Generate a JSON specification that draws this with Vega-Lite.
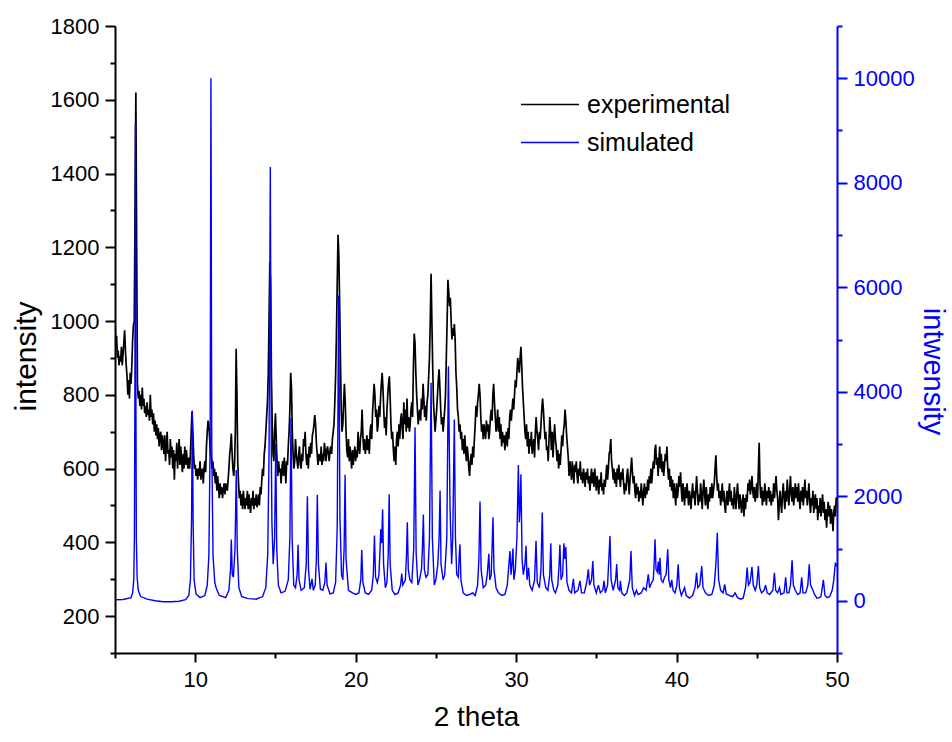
{
"$schema": "https://vega.github.io/schema/vega-lite/v6.json",
"width": 722,
"height": 627,
"autosize": {"type": "none"},
"padding": {"left": 115, "top": 26, "right": 115, "bottom": 89},
"background": "white",
"config": {"view": {"stroke": null}, "font": "Liberation Sans"},
"datasets": {
"exp": [
{"theta":5.00,"counts":1000},{"theta":5.05,"counts":930},{"theta":5.10,"counts":960},{"theta":5.15,"counts":900},{"theta":5.20,"counts":920},{"theta":5.25,"counts":880},{"theta":5.30,"counts":905},{"theta":5.35,"counts":890},{"theta":5.40,"counts":930},{"theta":5.45,"counts":880},{"theta":5.50,"counts":910},{"theta":5.55,"counts":940},{"theta":5.60,"counts":975},{"theta":5.65,"counts":920},{"theta":5.70,"counts":880},{"theta":5.75,"counts":850},{"theta":5.80,"counts":800},{"theta":5.85,"counts":840},{"theta":5.90,"counts":790},{"theta":5.95,"counts":860},{"theta":6.00,"counts":830},{"theta":6.05,"counts":880},{"theta":6.10,"counts":950},{"theta":6.15,"counts":990},{"theta":6.20,"counts":1000},{"theta":6.25,"counts":1300},{"theta":6.30,"counts":1620},{"theta":6.35,"counts":1200},{"theta":6.40,"counts":830},{"theta":6.45,"counts":790},{"theta":6.50,"counts":810},{"theta":6.55,"counts":770},{"theta":6.60,"counts":800},{"theta":6.65,"counts":760},{"theta":6.70,"counts":820},{"theta":6.75,"counts":770},{"theta":6.80,"counts":790},{"theta":6.85,"counts":750},{"theta":6.90,"counts":770},{"theta":6.95,"counts":740},{"theta":7.00,"counts":780},{"theta":7.05,"counts":745},{"theta":7.10,"counts":760},{"theta":7.15,"counts":730},{"theta":7.20,"counts":800},{"theta":7.25,"counts":740},{"theta":7.30,"counts":760},{"theta":7.35,"counts":720},{"theta":7.40,"counts":750},{"theta":7.45,"counts":700},{"theta":7.50,"counts":730},{"theta":7.55,"counts":690},{"theta":7.60,"counts":720},{"theta":7.65,"counts":680},{"theta":7.70,"counts":710},{"theta":7.75,"counts":660},{"theta":7.80,"counts":690},{"theta":7.85,"counts":700},{"theta":7.90,"counts":650},{"theta":7.95,"counts":690},{"theta":8.00,"counts":670},{"theta":8.05,"counts":640},{"theta":8.10,"counts":690},{"theta":8.15,"counts":620},{"theta":8.20,"counts":660},{"theta":8.25,"counts":700},{"theta":8.30,"counts":640},{"theta":8.35,"counts":650},{"theta":8.40,"counts":610},{"theta":8.45,"counts":680},{"theta":8.50,"counts":630},{"theta":8.55,"counts":660},{"theta":8.60,"counts":600},{"theta":8.65,"counts":650},{"theta":8.70,"counts":570},{"theta":8.75,"counts":640},{"theta":8.80,"counts":620},{"theta":8.85,"counts":670},{"theta":8.90,"counts":600},{"theta":8.95,"counts":640},{"theta":9.00,"counts":680},{"theta":9.05,"counts":610},{"theta":9.10,"counts":660},{"theta":9.15,"counts":620},{"theta":9.20,"counts":590},{"theta":9.25,"counts":640},{"theta":9.30,"counts":600},{"theta":9.35,"counts":660},{"theta":9.40,"counts":610},{"theta":9.45,"counts":650},{"theta":9.50,"counts":620},{"theta":9.55,"counts":600},{"theta":9.60,"counts":630},{"theta":9.65,"counts":600},{"theta":9.70,"counts":640},{"theta":9.75,"counts":700},{"theta":9.80,"counts":755},{"theta":9.85,"counts":700},{"theta":9.90,"counts":640},{"theta":9.95,"counts":600},
{"theta":10.00,"counts":610},{"theta":10.05,"counts":580},{"theta":10.10,"counts":600},{"theta":10.15,"counts":570},{"theta":10.20,"counts":600},{"theta":10.25,"counts":580},{"theta":10.30,"counts":620},{"theta":10.35,"counts":570},{"theta":10.40,"counts":590},{"theta":10.45,"counts":600},{"theta":10.50,"counts":560},{"theta":10.55,"counts":600},{"theta":10.60,"counts":620},{"theta":10.65,"counts":590},{"theta":10.70,"counts":660},{"theta":10.75,"counts":700},{"theta":10.80,"counts":730},{"theta":10.85,"counts":720},{"theta":10.90,"counts":680},{"theta":10.95,"counts":640},{"theta":11.00,"counts":630},{"theta":11.05,"counts":600},{"theta":11.10,"counts":620},{"theta":11.15,"counts":580},{"theta":11.20,"counts":600},{"theta":11.25,"counts":560},{"theta":11.30,"counts":590},{"theta":11.35,"counts":540},{"theta":11.40,"counts":580},{"theta":11.45,"counts":550},{"theta":11.50,"counts":520},{"theta":11.55,"counts":560},{"theta":11.60,"counts":530},{"theta":11.65,"counts":550},{"theta":11.70,"counts":520},{"theta":11.75,"counts":540},{"theta":11.80,"counts":560},{"theta":11.85,"counts":530},{"theta":11.90,"counts":560},{"theta":11.95,"counts":550},{"theta":12.00,"counts":540},{"theta":12.05,"counts":570},{"theta":12.10,"counts":600},{"theta":12.15,"counts":640},{"theta":12.20,"counts":660},{"theta":12.25,"counts":695},{"theta":12.30,"counts":640},{"theta":12.35,"counts":600},{"theta":12.40,"counts":580},{"theta":12.45,"counts":610},{"theta":12.50,"counts":700},{"theta":12.55,"counts":925},{"theta":12.60,"counts":800},{"theta":12.65,"counts":620},{"theta":12.70,"counts":560},{"theta":12.75,"counts":520},{"theta":12.80,"counts":540},{"theta":12.85,"counts":500},{"theta":12.90,"counts":530},{"theta":12.95,"counts":490},{"theta":13.00,"counts":540},{"theta":13.05,"counts":510},{"theta":13.10,"counts":490},{"theta":13.15,"counts":520},{"theta":13.20,"counts":500},{"theta":13.25,"counts":540},{"theta":13.30,"counts":490},{"theta":13.35,"counts":530},{"theta":13.40,"counts":500},{"theta":13.45,"counts":480},{"theta":13.50,"counts":520},{"theta":13.55,"counts":500},{"theta":13.60,"counts":540},{"theta":13.65,"counts":490},{"theta":13.70,"counts":520},{"theta":13.75,"counts":500},{"theta":13.80,"counts":530},{"theta":13.85,"counts":495},{"theta":13.90,"counts":510},{"theta":13.95,"counts":530},{"theta":14.00,"counts":500},{"theta":14.05,"counts":550},{"theta":14.10,"counts":530},{"theta":14.15,"counts":570},{"theta":14.20,"counts":600},{"theta":14.25,"counts":580},{"theta":14.30,"counts":640},{"theta":14.35,"counts":660},{"theta":14.40,"counts":700},{"theta":14.45,"counts":740},{"theta":14.50,"counts":780},{"theta":14.55,"counts":850},{"theta":14.60,"counts":1000},{"theta":14.65,"counts":1160},{"theta":14.70,"counts":1100},{"theta":14.75,"counts":850},{"theta":14.80,"counts":720},{"theta":14.85,"counts":640},{"theta":14.90,"counts":620},{"theta":14.95,"counts":700},
{"theta":15.00,"counts":750},{"theta":15.05,"counts":680},{"theta":15.10,"counts":620},{"theta":15.15,"counts":580},{"theta":15.20,"counts":620},{"theta":15.25,"counts":590},{"theta":15.30,"counts":600},{"theta":15.35,"counts":560},{"theta":15.40,"counts":600},{"theta":15.45,"counts":620},{"theta":15.50,"counts":580},{"theta":15.55,"counts":630},{"theta":15.60,"counts":600},{"theta":15.65,"counts":560},{"theta":15.70,"counts":620},{"theta":15.75,"counts":610},{"theta":15.80,"counts":660},{"theta":15.85,"counts":700},{"theta":15.90,"counts":760},{"theta":15.95,"counts":860},{"theta":16.00,"counts":820},{"theta":16.05,"counts":700},{"theta":16.10,"counts":640},{"theta":16.15,"counts":600},{"theta":16.20,"counts":620},{"theta":16.25,"counts":680},{"theta":16.30,"counts":640},{"theta":16.35,"counts":620},{"theta":16.40,"counts":600},{"theta":16.45,"counts":640},{"theta":16.50,"counts":660},{"theta":16.55,"counts":610},{"theta":16.60,"counts":600},{"theta":16.65,"counts":640},{"theta":16.70,"counts":620},{"theta":16.75,"counts":680},{"theta":16.80,"counts":660},{"theta":16.85,"counts":700},{"theta":16.90,"counts":640},{"theta":16.95,"counts":610},{"theta":17.00,"counts":640},{"theta":17.05,"counts":600},{"theta":17.10,"counts":660},{"theta":17.15,"counts":630},{"theta":17.20,"counts":670},{"theta":17.25,"counts":640},{"theta":17.30,"counts":690},{"theta":17.35,"counts":700},{"theta":17.40,"counts":720},{"theta":17.45,"counts":745},{"theta":17.50,"counts":720},{"theta":17.55,"counts":670},{"theta":17.60,"counts":640},{"theta":17.65,"counts":610},{"theta":17.70,"counts":640},{"theta":17.75,"counts":630},{"theta":17.80,"counts":620},{"theta":17.85,"counts":660},{"theta":17.90,"counts":610},{"theta":17.95,"counts":640},{"theta":18.00,"counts":620},{"theta":18.05,"counts":670},{"theta":18.10,"counts":650},{"theta":18.15,"counts":620},{"theta":18.20,"counts":650},{"theta":18.25,"counts":660},{"theta":18.30,"counts":640},{"theta":18.35,"counts":620},{"theta":18.40,"counts":650},{"theta":18.45,"counts":660},{"theta":18.50,"counts":640},{"theta":18.55,"counts":680},{"theta":18.60,"counts":700},{"theta":18.65,"counts":720},{"theta":18.70,"counts":780},{"theta":18.75,"counts":850},{"theta":18.80,"counts":960},{"theta":18.85,"counts":1100},{"theta":18.90,"counts":1234},{"theta":18.95,"counts":1180},{"theta":19.00,"counts":1050},{"theta":19.05,"counts":900},{"theta":19.10,"counts":760},{"theta":19.15,"counts":700},{"theta":19.20,"counts":720},{"theta":19.25,"counts":780},{"theta":19.30,"counts":830},{"theta":19.35,"counts":780},{"theta":19.40,"counts":700},{"theta":19.45,"counts":650},{"theta":19.50,"counts":630},{"theta":19.55,"counts":680},{"theta":19.60,"counts":620},{"theta":19.65,"counts":660},{"theta":19.70,"counts":630},{"theta":19.75,"counts":600},{"theta":19.80,"counts":650},{"theta":19.85,"counts":610},{"theta":19.90,"counts":640},{"theta":19.95,"counts":660},
{"theta":20.00,"counts":620},{"theta":20.05,"counts":650},{"theta":20.10,"counts":630},{"theta":20.15,"counts":700},{"theta":20.20,"counts":660},{"theta":20.25,"counts":640},{"theta":20.30,"counts":680},{"theta":20.35,"counts":700},{"theta":20.40,"counts":760},{"theta":20.45,"counts":690},{"theta":20.50,"counts":650},{"theta":20.55,"counts":680},{"theta":20.60,"counts":640},{"theta":20.65,"counts":660},{"theta":20.70,"counts":690},{"theta":20.75,"counts":650},{"theta":20.80,"counts":680},{"theta":20.85,"counts":640},{"theta":20.90,"counts":700},{"theta":20.95,"counts":720},{"theta":21.00,"counts":680},{"theta":21.05,"counts":750},{"theta":21.10,"counts":790},{"theta":21.15,"counts":830},{"theta":21.20,"counts":800},{"theta":21.25,"counts":740},{"theta":21.30,"counts":760},{"theta":21.35,"counts":700},{"theta":21.40,"counts":720},{"theta":21.45,"counts":770},{"theta":21.50,"counts":740},{"theta":21.55,"counts":790},{"theta":21.60,"counts":830},{"theta":21.65,"counts":860},{"theta":21.70,"counts":820},{"theta":21.75,"counts":760},{"theta":21.80,"counts":710},{"theta":21.85,"counts":740},{"theta":21.90,"counts":690},{"theta":21.95,"counts":760},{"theta":22.00,"counts":800},{"theta":22.05,"counts":830},{"theta":22.10,"counts":850},{"theta":22.15,"counts":790},{"theta":22.20,"counts":720},{"theta":22.25,"counts":680},{"theta":22.30,"counts":700},{"theta":22.35,"counts":650},{"theta":22.40,"counts":620},{"theta":22.45,"counts":660},{"theta":22.50,"counts":610},{"theta":22.55,"counts":680},{"theta":22.60,"counts":700},{"theta":22.65,"counts":660},{"theta":22.70,"counts":720},{"theta":22.75,"counts":680},{"theta":22.80,"counts":730},{"theta":22.85,"counts":750},{"theta":22.90,"counts":710},{"theta":22.95,"counts":680},{"theta":23.00,"counts":780},{"theta":23.05,"counts":720},{"theta":23.10,"counts":760},{"theta":23.15,"counts":700},{"theta":23.20,"counts":790},{"theta":23.25,"counts":710},{"theta":23.30,"counts":740},{"theta":23.35,"counts":700},{"theta":23.40,"counts":720},{"theta":23.45,"counts":760},{"theta":23.50,"counts":780},{"theta":23.55,"counts":740},{"theta":23.60,"counts":880},{"theta":23.65,"counts":966},{"theta":23.70,"counts":940},{"theta":23.75,"counts":860},{"theta":23.80,"counts":800},{"theta":23.85,"counts":760},{"theta":23.90,"counts":720},{"theta":23.95,"counts":750},{"theta":24.00,"counts":760},{"theta":24.05,"counts":730},{"theta":24.10,"counts":790},{"theta":24.15,"counts":760},{"theta":24.20,"counts":830},{"theta":24.25,"counts":790},{"theta":24.30,"counts":740},{"theta":24.35,"counts":770},{"theta":24.40,"counts":730},{"theta":24.45,"counts":780},{"theta":24.50,"counts":800},{"theta":24.55,"counts":850},{"theta":24.60,"counts":900},{"theta":24.65,"counts":1000},{"theta":24.70,"counts":1128},{"theta":24.75,"counts":1000},{"theta":24.80,"counts":880},{"theta":24.85,"counts":780},{"theta":24.90,"counts":740},{"theta":24.95,"counts":700},
{"theta":25.00,"counts":730},{"theta":25.05,"counts":760},{"theta":25.10,"counts":800},{"theta":25.15,"counts":840},{"theta":25.20,"counts":869},{"theta":25.25,"counts":820},{"theta":25.30,"counts":760},{"theta":25.35,"counts":720},{"theta":25.40,"counts":740},{"theta":25.45,"counts":700},{"theta":25.50,"counts":730},{"theta":25.55,"counts":760},{"theta":25.60,"counts":800},{"theta":25.65,"counts":900},{"theta":25.70,"counts":1000},{"theta":25.75,"counts":1112},{"theta":25.80,"counts":1080},{"theta":25.85,"counts":1040},{"theta":25.90,"counts":1063},{"theta":25.95,"counts":1000},{"theta":26.00,"counts":950},{"theta":26.05,"counts":980},{"theta":26.10,"counts":960},{"theta":26.15,"counts":992},{"theta":26.20,"counts":950},{"theta":26.25,"counts":860},{"theta":26.30,"counts":820},{"theta":26.35,"counts":760},{"theta":26.40,"counts":740},{"theta":26.45,"counts":700},{"theta":26.50,"counts":720},{"theta":26.55,"counts":680},{"theta":26.60,"counts":700},{"theta":26.65,"counts":650},{"theta":26.70,"counts":680},{"theta":26.75,"counts":640},{"theta":26.80,"counts":690},{"theta":26.85,"counts":650},{"theta":26.90,"counts":620},{"theta":26.95,"counts":660},{"theta":27.00,"counts":640},{"theta":27.05,"counts":600},{"theta":27.10,"counts":580},{"theta":27.15,"counts":620},{"theta":27.20,"counts":640},{"theta":27.25,"counts":610},{"theta":27.30,"counts":660},{"theta":27.35,"counts":630},{"theta":27.40,"counts":680},{"theta":27.45,"counts":720},{"theta":27.50,"counts":770},{"theta":27.55,"counts":740},{"theta":27.60,"counts":780},{"theta":27.65,"counts":800},{"theta":27.70,"counts":830},{"theta":27.75,"counts":800},{"theta":27.80,"counts":740},{"theta":27.85,"counts":700},{"theta":27.90,"counts":720},{"theta":27.95,"counts":680},{"theta":28.00,"counts":720},{"theta":28.05,"counts":700},{"theta":28.10,"counts":680},{"theta":28.15,"counts":730},{"theta":28.20,"counts":700},{"theta":28.25,"counts":720},{"theta":28.30,"counts":680},{"theta":28.35,"counts":700},{"theta":28.40,"counts":740},{"theta":28.45,"counts":760},{"theta":28.50,"counts":730},{"theta":28.55,"counts":800},{"theta":28.60,"counts":830},{"theta":28.65,"counts":780},{"theta":28.70,"counts":740},{"theta":28.75,"counts":700},{"theta":28.80,"counts":720},{"theta":28.85,"counts":760},{"theta":28.90,"counts":700},{"theta":28.95,"counts":740},{"theta":29.00,"counts":680},{"theta":29.05,"counts":720},{"theta":29.10,"counts":660},{"theta":29.15,"counts":700},{"theta":29.20,"counts":670},{"theta":29.25,"counts":690},{"theta":29.30,"counts":650},{"theta":29.35,"counts":680},{"theta":29.40,"counts":700},{"theta":29.45,"counts":660},{"theta":29.50,"counts":710},{"theta":29.55,"counts":680},{"theta":29.60,"counts":740},{"theta":29.65,"counts":760},{"theta":29.70,"counts":730},{"theta":29.75,"counts":760},{"theta":29.80,"counts":790},{"theta":29.85,"counts":760},{"theta":29.90,"counts":800},{"theta":29.95,"counts":840},
{"theta":30.00,"counts":820},{"theta":30.05,"counts":860},{"theta":30.10,"counts":900},{"theta":30.15,"counts":880},{"theta":30.20,"counts":860},{"theta":30.25,"counts":900},{"theta":30.30,"counts":930},{"theta":30.35,"counts":880},{"theta":30.40,"counts":820},{"theta":30.45,"counts":780},{"theta":30.50,"counts":740},{"theta":30.55,"counts":700},{"theta":30.60,"counts":680},{"theta":30.65,"counts":720},{"theta":30.70,"counts":660},{"theta":30.75,"counts":700},{"theta":30.80,"counts":640},{"theta":30.85,"counts":680},{"theta":30.90,"counts":660},{"theta":30.95,"counts":700},{"theta":31.00,"counts":640},{"theta":31.05,"counts":660},{"theta":31.10,"counts":680},{"theta":31.15,"counts":630},{"theta":31.20,"counts":700},{"theta":31.25,"counts":740},{"theta":31.30,"counts":700},{"theta":31.35,"counts":680},{"theta":31.40,"counts":650},{"theta":31.45,"counts":700},{"theta":31.50,"counts":680},{"theta":31.55,"counts":720},{"theta":31.60,"counts":760},{"theta":31.65,"counts":790},{"theta":31.70,"counts":760},{"theta":31.75,"counts":720},{"theta":31.80,"counts":680},{"theta":31.85,"counts":700},{"theta":31.90,"counts":650},{"theta":31.95,"counts":660},{"theta":32.00,"counts":620},{"theta":32.05,"counts":680},{"theta":32.10,"counts":740},{"theta":32.15,"counts":700},{"theta":32.20,"counts":650},{"theta":32.25,"counts":700},{"theta":32.30,"counts":630},{"theta":32.35,"counts":680},{"theta":32.40,"counts":720},{"theta":32.45,"counts":680},{"theta":32.50,"counts":660},{"theta":32.55,"counts":620},{"theta":32.60,"counts":650},{"theta":32.65,"counts":600},{"theta":32.70,"counts":640},{"theta":32.75,"counts":610},{"theta":32.80,"counts":650},{"theta":32.85,"counts":690},{"theta":32.90,"counts":660},{"theta":32.95,"counts":700},{"theta":33.00,"counts":720},{"theta":33.05,"counts":760},{"theta":33.10,"counts":730},{"theta":33.15,"counts":690},{"theta":33.20,"counts":660},{"theta":33.25,"counts":630},{"theta":33.30,"counts":580},{"theta":33.35,"counts":620},{"theta":33.40,"counts":600},{"theta":33.45,"counts":570},{"theta":33.50,"counts":620},{"theta":33.55,"counts":590},{"theta":33.60,"counts":560},{"theta":33.65,"counts":610},{"theta":33.70,"counts":590},{"theta":33.75,"counts":620},{"theta":33.80,"counts":580},{"theta":33.85,"counts":560},{"theta":33.90,"counts":600},{"theta":33.95,"counts":580},{"theta":34.00,"counts":620},{"theta":34.05,"counts":570},{"theta":34.10,"counts":590},{"theta":34.15,"counts":560},{"theta":34.20,"counts":600},{"theta":34.25,"counts":580},{"theta":34.30,"counts":550},{"theta":34.35,"counts":590},{"theta":34.40,"counts":570},{"theta":34.45,"counts":600},{"theta":34.50,"counts":560},{"theta":34.55,"counts":580},{"theta":34.60,"counts":540},{"theta":34.65,"counts":570},{"theta":34.70,"counts":600},{"theta":34.75,"counts":560},{"theta":34.80,"counts":590},{"theta":34.85,"counts":550},{"theta":34.90,"counts":600},{"theta":34.95,"counts":570},
{"theta":35.00,"counts":540},{"theta":35.05,"counts":580},{"theta":35.10,"counts":560},{"theta":35.15,"counts":530},{"theta":35.20,"counts":570},{"theta":35.25,"counts":550},{"theta":35.30,"counts":590},{"theta":35.35,"counts":540},{"theta":35.40,"counts":560},{"theta":35.45,"counts":530},{"theta":35.50,"counts":570},{"theta":35.55,"counts":550},{"theta":35.60,"counts":580},{"theta":35.65,"counts":610},{"theta":35.70,"counts":570},{"theta":35.75,"counts":600},{"theta":35.80,"counts":640},{"theta":35.85,"counts":650},{"theta":35.90,"counts":680},{"theta":35.95,"counts":620},{"theta":36.00,"counts":600},{"theta":36.05,"counts":570},{"theta":36.10,"counts":600},{"theta":36.15,"counts":560},{"theta":36.20,"counts":590},{"theta":36.25,"counts":550},{"theta":36.30,"counts":600},{"theta":36.35,"counts":570},{"theta":36.40,"counts":610},{"theta":36.45,"counts":580},{"theta":36.50,"counts":550},{"theta":36.55,"counts":590},{"theta":36.60,"counts":570},{"theta":36.65,"counts":600},{"theta":36.70,"counts":560},{"theta":36.75,"counts":530},{"theta":36.80,"counts":560},{"theta":36.85,"counts":540},{"theta":36.90,"counts":580},{"theta":36.95,"counts":600},{"theta":37.00,"counts":560},{"theta":37.05,"counts":530},{"theta":37.10,"counts":570},{"theta":37.15,"counts":600},{"theta":37.20,"counts":630},{"theta":37.25,"counts":590},{"theta":37.30,"counts":560},{"theta":37.35,"counts":580},{"theta":37.40,"counts":540},{"theta":37.45,"counts":520},{"theta":37.50,"counts":560},{"theta":37.55,"counts":530},{"theta":37.60,"counts":550},{"theta":37.65,"counts":510},{"theta":37.70,"counts":540},{"theta":37.75,"counts":520},{"theta":37.80,"counts":560},{"theta":37.85,"counts":530},{"theta":37.90,"counts":500},{"theta":37.95,"counts":540},{"theta":38.00,"counts":560},{"theta":38.05,"counts":520},{"theta":38.10,"counts":550},{"theta":38.15,"counts":530},{"theta":38.20,"counts":570},{"theta":38.25,"counts":540},{"theta":38.30,"counts":580},{"theta":38.35,"counts":560},{"theta":38.40,"counts":600},{"theta":38.45,"counts":560},{"theta":38.50,"counts":590},{"theta":38.55,"counts":620},{"theta":38.60,"counts":600},{"theta":38.65,"counts":650},{"theta":38.70,"counts":665},{"theta":38.75,"counts":610},{"theta":38.80,"counts":630},{"theta":38.85,"counts":580},{"theta":38.90,"counts":620},{"theta":38.95,"counts":660},{"theta":39.00,"counts":600},{"theta":39.05,"counts":640},{"theta":39.10,"counts":590},{"theta":39.15,"counts":620},{"theta":39.20,"counts":580},{"theta":39.25,"counts":610},{"theta":39.30,"counts":640},{"theta":39.35,"counts":620},{"theta":39.40,"counts":660},{"theta":39.45,"counts":600},{"theta":39.50,"counts":570},{"theta":39.55,"counts":600},{"theta":39.60,"counts":550},{"theta":39.65,"counts":580},{"theta":39.70,"counts":540},{"theta":39.75,"counts":570},{"theta":39.80,"counts":520},{"theta":39.85,"counts":560},{"theta":39.90,"counts":530},{"theta":39.95,"counts":500},
{"theta":40.00,"counts":560},{"theta":40.05,"counts":520},{"theta":40.10,"counts":540},{"theta":40.15,"counts":580},{"theta":40.20,"counts":550},{"theta":40.25,"counts":590},{"theta":40.30,"counts":540},{"theta":40.35,"counts":510},{"theta":40.40,"counts":560},{"theta":40.45,"counts":530},{"theta":40.50,"counts":500},{"theta":40.55,"counts":550},{"theta":40.60,"counts":520},{"theta":40.65,"counts":560},{"theta":40.70,"counts":530},{"theta":40.75,"counts":500},{"theta":40.80,"counts":540},{"theta":40.85,"counts":520},{"theta":40.90,"counts":490},{"theta":40.95,"counts":530},{"theta":41.00,"counts":560},{"theta":41.05,"counts":520},{"theta":41.10,"counts":540},{"theta":41.15,"counts":500},{"theta":41.20,"counts":540},{"theta":41.25,"counts":580},{"theta":41.30,"counts":540},{"theta":41.35,"counts":500},{"theta":41.40,"counts":530},{"theta":41.45,"counts":510},{"theta":41.50,"counts":560},{"theta":41.55,"counts":530},{"theta":41.60,"counts":490},{"theta":41.65,"counts":540},{"theta":41.70,"counts":570},{"theta":41.75,"counts":530},{"theta":41.80,"counts":500},{"theta":41.85,"counts":550},{"theta":41.90,"counts":520},{"theta":41.95,"counts":490},{"theta":42.00,"counts":530},{"theta":42.05,"counts":510},{"theta":42.10,"counts":550},{"theta":42.15,"counts":520},{"theta":42.20,"counts":560},{"theta":42.25,"counts":520},{"theta":42.30,"counts":540},{"theta":42.35,"counts":560},{"theta":42.40,"counts":600},{"theta":42.45,"counts":636},{"theta":42.50,"counts":580},{"theta":42.55,"counts":540},{"theta":42.60,"counts":560},{"theta":42.65,"counts":520},{"theta":42.70,"counts":540},{"theta":42.75,"counts":500},{"theta":42.80,"counts":530},{"theta":42.85,"counts":560},{"theta":42.90,"counts":510},{"theta":42.95,"counts":540},{"theta":43.00,"counts":500},{"theta":43.05,"counts":480},{"theta":43.10,"counts":520},{"theta":43.15,"counts":540},{"theta":43.20,"counts":500},{"theta":43.25,"counts":530},{"theta":43.30,"counts":560},{"theta":43.35,"counts":510},{"theta":43.40,"counts":540},{"theta":43.45,"counts":500},{"theta":43.50,"counts":520},{"theta":43.55,"counts":490},{"theta":43.60,"counts":550},{"theta":43.65,"counts":520},{"theta":43.70,"counts":490},{"theta":43.75,"counts":530},{"theta":43.80,"counts":560},{"theta":43.85,"counts":520},{"theta":43.90,"counts":490},{"theta":43.95,"counts":530},{"theta":44.00,"counts":510},{"theta":44.05,"counts":480},{"theta":44.10,"counts":510},{"theta":44.15,"counts":530},{"theta":44.20,"counts":470},{"theta":44.25,"counts":520},{"theta":44.30,"counts":490},{"theta":44.35,"counts":530},{"theta":44.40,"counts":510},{"theta":44.45,"counts":560},{"theta":44.50,"counts":540},{"theta":44.55,"counts":570},{"theta":44.60,"counts":530},{"theta":44.65,"counts":550},{"theta":44.70,"counts":580},{"theta":44.75,"counts":540},{"theta":44.80,"counts":520},{"theta":44.85,"counts":550},{"theta":44.90,"counts":510},{"theta":44.95,"counts":530},
{"theta":45.00,"counts":560},{"theta":45.05,"counts":520},{"theta":45.10,"counts":600},{"theta":45.15,"counts":670},{"theta":45.20,"counts":560},{"theta":45.25,"counts":520},{"theta":45.30,"counts":550},{"theta":45.35,"counts":500},{"theta":45.40,"counts":540},{"theta":45.45,"counts":510},{"theta":45.50,"counts":560},{"theta":45.55,"counts":530},{"theta":45.60,"counts":500},{"theta":45.65,"counts":540},{"theta":45.70,"counts":520},{"theta":45.75,"counts":550},{"theta":45.80,"counts":510},{"theta":45.85,"counts":540},{"theta":45.90,"counts":500},{"theta":45.95,"counts":530},{"theta":46.00,"counts":510},{"theta":46.05,"counts":560},{"theta":46.10,"counts":520},{"theta":46.15,"counts":550},{"theta":46.20,"counts":580},{"theta":46.25,"counts":540},{"theta":46.30,"counts":520},{"theta":46.35,"counts":460},{"theta":46.40,"counts":500},{"theta":46.45,"counts":540},{"theta":46.50,"counts":510},{"theta":46.55,"counts":480},{"theta":46.60,"counts":530},{"theta":46.65,"counts":560},{"theta":46.70,"counts":520},{"theta":46.75,"counts":490},{"theta":46.80,"counts":540},{"theta":46.85,"counts":510},{"theta":46.90,"counts":570},{"theta":46.95,"counts":530},{"theta":47.00,"counts":500},{"theta":47.05,"counts":540},{"theta":47.10,"counts":580},{"theta":47.15,"counts":530},{"theta":47.20,"counts":510},{"theta":47.25,"counts":550},{"theta":47.30,"counts":500},{"theta":47.35,"counts":530},{"theta":47.40,"counts":560},{"theta":47.45,"counts":520},{"theta":47.50,"counts":550},{"theta":47.55,"counts":510},{"theta":47.60,"counts":560},{"theta":47.65,"counts":520},{"theta":47.70,"counts":490},{"theta":47.75,"counts":540},{"theta":47.80,"counts":510},{"theta":47.85,"counts":550},{"theta":47.90,"counts":500},{"theta":47.95,"counts":530},{"theta":48.00,"counts":570},{"theta":48.05,"counts":520},{"theta":48.10,"counts":540},{"theta":48.15,"counts":500},{"theta":48.20,"counts":530},{"theta":48.25,"counts":560},{"theta":48.30,"counts":510},{"theta":48.35,"counts":480},{"theta":48.40,"counts":520},{"theta":48.45,"counts":500},{"theta":48.50,"counts":540},{"theta":48.55,"counts":480},{"theta":48.60,"counts":510},{"theta":48.65,"counts":530},{"theta":48.70,"counts":490},{"theta":48.75,"counts":520},{"theta":48.80,"counts":460},{"theta":48.85,"counts":500},{"theta":48.90,"counts":480},{"theta":48.95,"counts":520},{"theta":49.00,"counts":470},{"theta":49.05,"counts":500},{"theta":49.10,"counts":530},{"theta":49.15,"counts":480},{"theta":49.20,"counts":510},{"theta":49.25,"counts":460},{"theta":49.30,"counts":490},{"theta":49.35,"counts":440},{"theta":49.40,"counts":480},{"theta":49.45,"counts":510},{"theta":49.50,"counts":470},{"theta":49.55,"counts":500},{"theta":49.60,"counts":450},{"theta":49.65,"counts":490},{"theta":49.70,"counts":470},{"theta":49.75,"counts":430},{"theta":49.80,"counts":480},{"theta":49.85,"counts":500},{"theta":49.90,"counts":470},{"theta":49.95,"counts":520},{"theta":50.00,"counts":520}
],
"sim": [
{"theta":5.0,"counts":20},{"theta":5.5,"counts":25},{"theta":6.0,"counts":60},{"theta":6.1,"counts":150},{"theta":6.17,"counts":400},{"theta":6.21,"counts":1200},{"theta":6.24,"counts":4000},{"theta":6.27,"counts":9130},{"theta":6.30,"counts":4000},{"theta":6.33,"counts":1200},{"theta":6.38,"counts":450},{"theta":6.45,"counts":200},{"theta":6.6,"counts":80},{"theta":7.0,"counts":30},{"theta":7.5,"counts":0},{"theta":8.0,"counts":-20},{"theta":8.5,"counts":-20},{"theta":9.0,"counts":-10},{"theta":9.4,"counts":20},{"theta":9.6,"counts":100},{"theta":9.7,"counts":400},{"theta":9.77,"counts":1500},{"theta":9.82,"counts":3640},{"theta":9.87,"counts":1500},{"theta":9.93,"counts":400},{"theta":10.05,"counts":130},{"theta":10.3,"counts":60},{"theta":10.6,"counts":100},{"theta":10.75,"counts":300},{"theta":10.85,"counts":860},{"theta":10.93,"counts":3000},{"theta":10.98,"counts":10000},{"theta":11.03,"counts":3000},{"theta":11.11,"counts":860},{"theta":11.22,"counts":350},{"theta":11.3,"counts":250},{"theta":11.5,"counts":100},{"theta":11.9,"counts":60},{"theta":12.1,"counts":200},{"theta":12.2,"counts":600},{"theta":12.25,"counts":1170},{"theta":12.31,"counts":500},{"theta":12.38,"counts":450},{"theta":12.48,"counts":1000},{"theta":12.56,"counts":2500},{"theta":12.62,"counts":1000},{"theta":12.72,"counts":250},{"theta":12.9,"counts":80},{"theta":13.3,"counts":40},{"theta":13.8,"counts":30},{"theta":14.2,"counts":80},{"theta":14.4,"counts":250},{"theta":14.52,"counts":900},{"theta":14.6,"counts":2800},{"theta":14.68,"counts":8300},{"theta":14.74,"counts":3000},{"theta":14.78,"counts":1500},{"theta":14.86,"counts":700},{"theta":14.95,"counts":1200},{"theta":15.02,"counts":3000},{"theta":15.08,"counts":1000},{"theta":15.18,"counts":300},{"theta":15.35,"counts":150},{"theta":15.6,"counts":180},{"theta":15.8,"counts":400},{"theta":15.9,"counts":1200},{"theta":15.97,"counts":3500},{"theta":16.04,"counts":1200},{"theta":16.14,"counts":300},{"theta":16.25,"counts":250},{"theta":16.35,"counts":500},{"theta":16.41,"counts":1070},{"theta":16.47,"counts":400},{"theta":16.6,"counts":200},{"theta":16.8,"counts":250},{"theta":16.92,"counts":700},{"theta":16.99,"counts":2000},{"theta":17.06,"counts":600},{"theta":17.16,"counts":220},{"theta":17.28,"counts":420},{"theta":17.36,"counts":200},{"theta":17.48,"counts":300},{"theta":17.55,"counts":800},{"theta":17.61,"counts":2030},{"theta":17.68,"counts":700},{"theta":17.8,"counts":220},{"theta":17.95,"counts":200},{"theta":18.08,"counts":350},{"theta":18.15,"counts":730},{"theta":18.22,"counts":300},{"theta":18.4,"counts":130},{"theta":18.6,"counts":150},{"theta":18.75,"counts":350},{"theta":18.85,"counts":1400},{"theta":18.94,"counts":5840},{"theta":19.02,"counts":1600},{"theta":19.12,"counts":500},{"theta":19.2,"counts":400},{"theta":19.28,"counts":1000},{"theta":19.34,"counts":2410},{"theta":19.4,"counts":800},{"theta":19.55,"counts":200},{"theta":19.8,"counts":150},{"theta":20.0,"counts":120},{"theta":20.2,"counts":150},{"theta":20.32,"counts":400},{"theta":20.38,"counts":970},{"theta":20.45,"counts":350},{"theta":20.6,"counts":150},{"theta":20.8,"counts":120},{"theta":21.0,"counts":200},{"theta":21.1,"counts":500},{"theta":21.17,"counts":1250},{"theta":21.24,"counts":450},{"theta":21.35,"counts":350},{"theta":21.45,"counts":500},{"theta":21.52,"counts":1000},{"theta":21.56,"counts":1370},{"theta":21.62,"counts":1100},{"theta":21.68,"counts":1750},{"theta":21.74,"counts":700},{"theta":21.85,"counts":250},{"theta":21.95,"counts":350},{"theta":22.03,"counts":900},{"theta":22.09,"counts":2040},{"theta":22.15,"counts":700},{"theta":22.28,"counts":200},{"theta":22.45,"counts":120},{"theta":22.65,"counts":150},{"theta":22.8,"counts":300},{"theta":22.87,"counts":520},{"theta":22.94,"counts":300},{"theta":23.1,"counts":400},{"theta":23.17,"counts":900},{"theta":23.22,"counts":1500},{"theta":23.28,"counts":600},{"theta":23.38,"counts":400},{"theta":23.5,"counts":350},{"theta":23.62,"counts":1000},{"theta":23.70,"counts":3320},{"theta":23.77,"counts":900},{"theta":23.88,"counts":300},{"theta":23.98,"counts":400},{"theta":24.1,"counts":600},{"theta":24.16,"counts":1000},{"theta":24.22,"counts":1650},{"theta":24.28,"counts":600},{"theta":24.38,"counts":450},{"theta":24.5,"counts":500},{"theta":24.6,"counts":1200},{"theta":24.7,"counts":4170},{"theta":24.78,"counts":1200},{"theta":24.9,"counts":300},{"theta":25.0,"counts":400},{"theta":25.12,"counts":700},{"theta":25.2,"counts":1200},{"theta":25.26,"counts":2110},{"theta":25.32,"counts":700},{"theta":25.45,"counts":400},{"theta":25.55,"counts":500},{"theta":25.68,"counts":1200},{"theta":25.78,"counts":4490},{"theta":25.88,"counts":1800},{"theta":25.98,"counts":700},{"theta":26.05,"counts":1200},{"theta":26.15,"counts":3470},{"theta":26.22,"counts":1200},{"theta":26.3,"counts":500},{"theta":26.4,"counts":450},{"theta":26.46,"counts":900},{"theta":26.5,"counts":1080},{"theta":26.56,"counts":400},{"theta":26.7,"counts":150},{"theta":26.9,"counts":100},{"theta":27.1,"counts":120},{"theta":27.3,"counts":150},{"theta":27.45,"counts":100},{"theta":27.6,"counts":300},{"theta":27.68,"counts":800},{"theta":27.75,"counts":1900},{"theta":27.82,"counts":600},{"theta":27.95,"counts":250},{"theta":28.1,"counts":300},{"theta":28.2,"counts":500},{"theta":28.3,"counts":900},{"theta":28.36,"counts":400},{"theta":28.45,"counts":500},{"theta":28.5,"counts":1000},{"theta":28.56,"counts":1600},{"theta":28.62,"counts":600},{"theta":28.75,"counts":250},{"theta":28.9,"counts":150},{"theta":29.1,"counts":100},{"theta":29.3,"counts":120},{"theta":29.45,"counts":300},{"theta":29.55,"counts":700},{"theta":29.62,"counts":950},{"theta":29.68,"counts":500},{"theta":29.74,"counts":700},{"theta":29.8,"counts":1000},{"theta":29.86,"counts":400},{"theta":29.95,"counts":600},{"theta":30.05,"counts":1200},{"theta":30.14,"counts":2600},{"theta":30.2,"counts":1500},{"theta":30.25,"counts":1800},{"theta":30.3,"counts":2420},{"theta":30.37,"counts":800},{"theta":30.45,"counts":500},{"theta":30.55,"counts":700},{"theta":30.62,"counts":1050},{"theta":30.68,"counts":400},{"theta":30.78,"counts":630},{"theta":30.85,"counts":300},{"theta":31.0,"counts":200},{"theta":31.15,"counts":400},{"theta":31.24,"counts":1150},{"theta":31.32,"counts":350},{"theta":31.45,"counts":250},{"theta":31.55,"counts":600},{"theta":31.63,"counts":1690},{"theta":31.7,"counts":500},{"theta":31.85,"counts":250},{"theta":31.98,"counts":200},{"theta":32.1,"counts":500},{"theta":32.16,"counts":1100},{"theta":32.22,"counts":400},{"theta":32.35,"counts":200},{"theta":32.45,"counts":150},{"theta":32.6,"counts":300},{"theta":32.68,"counts":700},{"theta":32.73,"counts":1070},{"theta":32.8,"counts":400},{"theta":32.9,"counts":500},{"theta":32.98,"counts":1100},{"theta":33.04,"counts":800},{"theta":33.1,"counts":1030},{"theta":33.17,"counts":350},{"theta":33.3,"counts":200},{"theta":33.45,"counts":150},{"theta":33.57,"counts":420},{"theta":33.65,"counts":150},{"theta":33.85,"counts":200},{"theta":33.98,"counts":380},{"theta":34.08,"counts":150},{"theta":34.25,"counts":150},{"theta":34.4,"counts":350},{"theta":34.5,"counts":600},{"theta":34.58,"counts":300},{"theta":34.7,"counts":400},{"theta":34.78,"counts":760},{"theta":34.85,"counts":300},{"theta":35.0,"counts":150},{"theta":35.13,"counts":300},{"theta":35.25,"counts":150},{"theta":35.4,"counts":200},{"theta":35.48,"counts":380},{"theta":35.56,"counts":150},{"theta":35.7,"counts":300},{"theta":35.85,"counts":1240},{"theta":35.92,"counts":400},{"theta":36.05,"counts":200},{"theta":36.2,"counts":400},{"theta":36.27,"counts":700},{"theta":36.34,"counts":250},{"theta":36.45,"counts":200},{"theta":36.5,"counts":380},{"theta":36.58,"counts":150},{"theta":36.75,"counts":100},{"theta":36.9,"counts":150},{"theta":37.08,"counts":400},{"theta":37.16,"counts":950},{"theta":37.24,"counts":250},{"theta":37.38,"counts":100},{"theta":37.5,"counts":200},{"theta":37.6,"counts":120},{"theta":37.8,"counts":150},{"theta":37.95,"counts":250},{"theta":38.1,"counts":200},{"theta":38.24,"counts":505},{"theta":38.32,"counts":250},{"theta":38.45,"counts":350},{"theta":38.55,"counts":400},{"theta":38.6,"counts":700},{"theta":38.66,"counts":1175},{"theta":38.72,"counts":600},{"theta":38.8,"counts":550},{"theta":38.86,"counts":750},{"theta":38.92,"counts":500},{"theta":38.97,"counts":824},{"theta":39.04,"counts":400},{"theta":39.15,"counts":350},{"theta":39.25,"counts":450},{"theta":39.35,"counts":500},{"theta":39.45,"counts":984},{"theta":39.52,"counts":400},{"theta":39.62,"counts":250},{"theta":39.7,"counts":400},{"theta":39.78,"counts":200},{"theta":39.9,"counts":150},{"theta":40.02,"counts":300},{"theta":40.1,"counts":697},{"theta":40.18,"counts":250},{"theta":40.3,"counts":100},{"theta":40.5,"counts":250},{"theta":40.6,"counts":100},{"theta":40.8,"counts":50},{"theta":41.0,"counts":100},{"theta":41.15,"counts":250},{"theta":41.25,"counts":537},{"theta":41.32,"counts":250},{"theta":41.45,"counts":300},{"theta":41.57,"counts":665},{"theta":41.65,"counts":250},{"theta":41.8,"counts":150},{"theta":42.0,"counts":100},{"theta":42.2,"counts":120},{"theta":42.35,"counts":300},{"theta":42.45,"counts":700},{"theta":42.54,"counts":1303},{"theta":42.62,"counts":400},{"theta":42.75,"counts":200},{"theta":42.9,"counts":150},{"theta":43.0,"counts":314},{"theta":43.1,"counts":130},{"theta":43.3,"counts":100},{"theta":43.5,"counts":80},{"theta":43.65,"counts":150},{"theta":43.8,"counts":60},{"theta":44.0,"counts":30},{"theta":44.15,"counts":50},{"theta":44.3,"counts":250},{"theta":44.4,"counts":633},{"theta":44.48,"counts":300},{"theta":44.58,"counts":350},{"theta":44.7,"counts":650},{"theta":44.78,"counts":300},{"theta":44.9,"counts":200},{"theta":45.0,"counts":300},{"theta":45.1,"counts":665},{"theta":45.18,"counts":250},{"theta":45.3,"counts":150},{"theta":45.45,"counts":200},{"theta":45.55,"counts":300},{"theta":45.65,"counts":150},{"theta":45.8,"counts":120},{"theta":46.0,"counts":200},{"theta":46.1,"counts":537},{"theta":46.18,"counts":200},{"theta":46.3,"counts":150},{"theta":46.42,"counts":250},{"theta":46.5,"counts":120},{"theta":46.7,"counts":150},{"theta":46.8,"counts":450},{"theta":46.88,"counts":150},{"theta":47.0,"counts":150},{"theta":47.1,"counts":300},{"theta":47.2,"counts":773},{"theta":47.28,"counts":300},{"theta":47.4,"counts":200},{"theta":47.55,"counts":120},{"theta":47.7,"counts":150},{"theta":47.8,"counts":450},{"theta":47.88,"counts":150},{"theta":48.05,"counts":150},{"theta":48.18,"counts":300},{"theta":48.27,"counts":697},{"theta":48.35,"counts":300},{"theta":48.5,"counts":200},{"theta":48.6,"counts":120},{"theta":48.75,"counts":50},{"theta":48.9,"counts":60},{"theta":49.0,"counts":80},{"theta":49.15,"counts":400},{"theta":49.25,"counts":100},{"theta":49.4,"counts":60},{"theta":49.55,"counts":80},{"theta":49.7,"counts":200},{"theta":49.8,"counts":400},{"theta":49.9,"counts":729},{"theta":50.0,"counts":650}
]
},
"layer": [
{
"data": {"name": "exp"},
"mark": {"type": "line", "strokeWidth": 1.7, "clip": true},
"encoding": {
"x": {"field": "theta", "type": "quantitative", "scale": {"domain": [5, 50], "nice": false, "zero": false},
"axis": {"title": "2 theta", "values": [5,10,15,20,25,30,35,40,45,50], "format": "d",
"labelExpr": "datum.value % 10 === 0 ? datum.label : ''",
"tickSize": {"condition": {"test": "datum.value % 10 === 0", "value": 9}, "value": 5},
"grid": false, "domainColor": "#000000", "domainWidth": 2, "tickColor": "#000000", "tickWidth": 2,
"labelColor": "#000000", "labelFontSize": 22, "labelPadding": 7, "labelFlush": false, "labelOverlap": false,
"titleFontSize": 28, "titleFontWeight": "normal", "titleColor": "#000000", "titlePadding": 13}},
"y": {"field": "counts", "type": "quantitative", "scale": {"domain": [100, 1800], "nice": false, "zero": false},
"axis": {"orient": "left", "title": "intensity", "values": [100,200,300,400,500,600,700,800,900,1000,1100,1200,1300,1400,1500,1600,1700,1800], "format": "d",
"labelExpr": "datum.value % 200 === 0 ? datum.label : ''",
"tickSize": {"condition": {"test": "datum.value % 200 === 0", "value": 10}, "value": 5},
"grid": false, "domainColor": "#000000", "domainWidth": 2, "tickColor": "#000000", "tickWidth": 2,
"labelColor": "#000000", "labelFontSize": 22, "labelPadding": 6, "labelFlush": false, "labelOverlap": false,
"titleFontSize": 30, "titleFontWeight": "normal", "titleColor": "#000000", "titlePadding": 9, "titleY": 330}},
"color": {"datum": "experimental", "type": "nominal",
"scale": {"domain": ["experimental", "simulated"], "range": ["#000000", "#0000ff"]},
"legend": {"orient": "none", "legendX": 405, "legendY": 66, "title": null, "symbolType": "stroke", "symbolSize": 3364, "symbolStrokeWidth": 1.5, "clipHeight": 25, "rowPadding": 12, "padding": 0, "labelOffset": 7, "labelFontSize": 25, "labelColor": "#000000", "labelFont": "Liberation Sans"}}
}
},
{
"data": {"name": "sim"},
"mark": {"type": "line", "strokeWidth": 1.4, "clip": true},
"encoding": {
"x": {"field": "theta", "type": "quantitative", "scale": {"domain": [5, 50], "nice": false, "zero": false}},
"y": {"field": "counts", "type": "quantitative", "scale": {"domain": [-1000, 11000], "nice": false, "zero": false},
"axis": {"orient": "right", "title": "intwensity", "values": [-1000,0,1000,2000,3000,4000,5000,6000,7000,8000,9000,10000,11000], "format": "d",
"labelExpr": "datum.value % 2000 === 0 ? datum.label : ''",
"tickSize": {"condition": {"test": "datum.value % 2000 === 0", "value": 10}, "value": 5},
"grid": false, "domainColor": "#0000ff", "domainWidth": 2, "tickColor": "#0000ff", "tickWidth": 2,
"labelColor": "#0000ff", "labelFontSize": 22, "labelPadding": 6, "labelFlush": false, "labelOverlap": false,
"titleFontSize": 29, "titleFontWeight": "normal", "titleColor": "#0000ff", "titlePadding": 3, "titleY": 345}},
"color": {"datum": "simulated", "type": "nominal"}
}
}
],
"resolve": {"scale": {"y": "independent"}}
}
